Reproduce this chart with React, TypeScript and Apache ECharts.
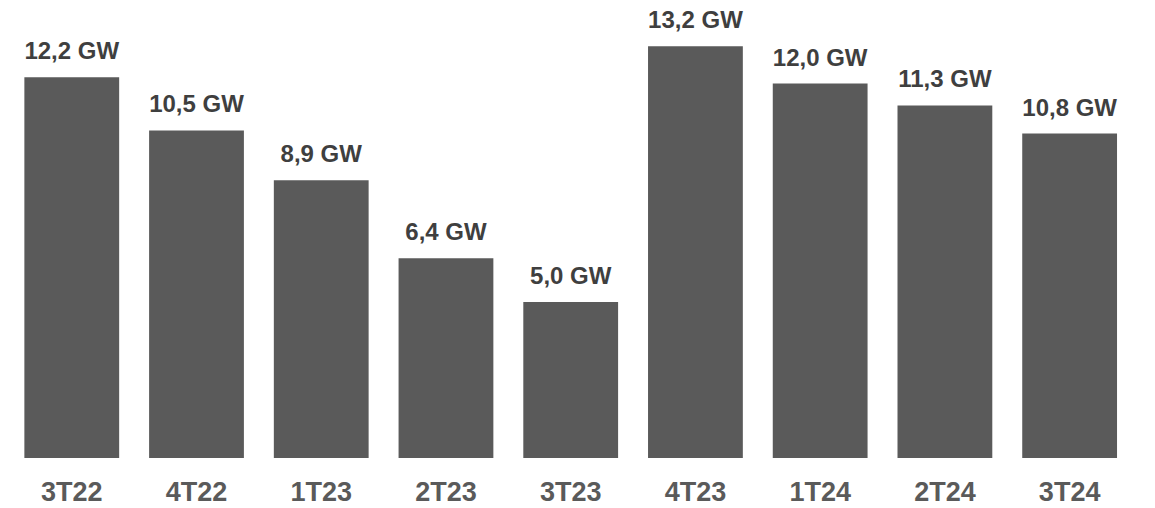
import React, { useEffect, useRef } from "react";
import * as echarts from "echarts";

const categories = ["3T22", "4T22", "1T23", "2T23", "3T23", "4T23", "1T24", "2T24", "3T24"];
// values as written in the labels
const labelValues = [12.2, 10.5, 8.9, 6.4, 5.0, 13.2, 12.0, 11.3, 10.8];
// bar heights as drawn in the picture (the last bar is drawn shorter than its label)
const barHeights = [12.2, 10.5, 8.9, 6.4, 5.0, 13.2, 12.0, 11.3, 10.4];
const unit = "GW";

export default function App() {
  const ref = useRef<HTMLDivElement>(null);
  useEffect(() => {
    if (!ref.current) return;
    const chart = echarts.init(ref.current, null, { renderer: "svg" });
    chart.setOption({
      animation: false,
      backgroundColor: "#ffffff",
      grid: { left: 9.4, right: 23, top: 21.2, bottom: 50 },
      xAxis: {
        type: "category",
        data: categories,
        axisLine: { show: false },
        axisTick: { show: false },
        axisLabel: {
          color: "#5a5a5a",
          fontFamily: "Liberation Sans, Arial, sans-serif",
          fontWeight: "bold",
          fontSize: 27,
          margin: 20,
        },
      },
      yAxis: {
        type: "value",
        min: 0,
        max: 14,
        show: false,
        splitLine: { show: false },
      },
      series: [
        {
          type: "bar",
          data: barHeights,
          barWidth: "76%",
          itemStyle: { color: "#5a5a5a" },
          label: {
            show: true,
            position: "top",
            distance: 14.5,
            color: "#3f3f3f",
            fontFamily: "Liberation Sans, Arial, sans-serif",
            fontWeight: "bold",
            fontSize: 24,
            formatter: (p: any) =>
              `${labelValues[p.dataIndex].toFixed(1).replace(".", ",")} ${unit}`,
          },
        },
      ],
    });
    return () => chart.dispose();
  }, []);
  return (
    <div
      ref={ref}
      style={{ position: "fixed", left: 0, top: 0, width: 1155, height: 508 }}
    />
  );
}
